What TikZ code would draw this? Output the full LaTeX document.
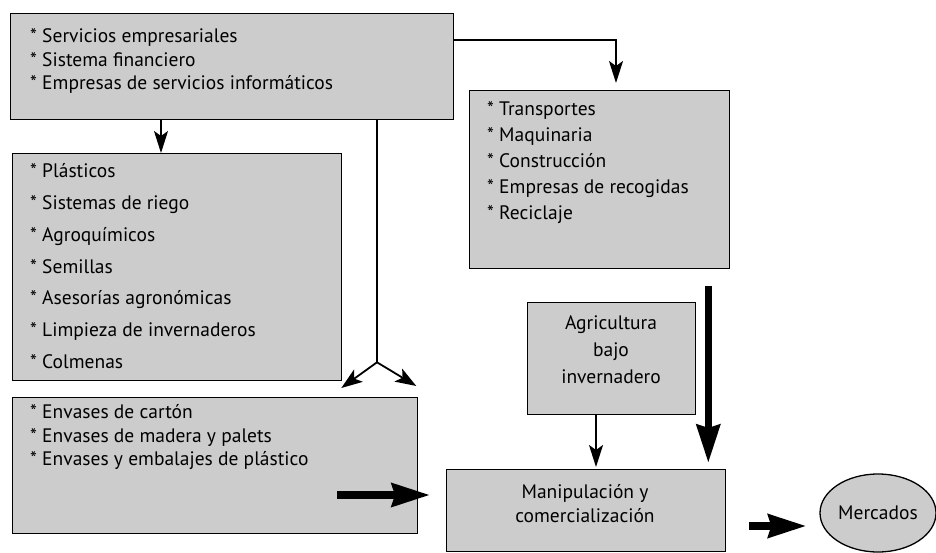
\documentclass[tikz,border=0pt]{standalone}
\usepackage{fontspec}
\setmainfont{PT Sans}
\usetikzlibrary{arrows.meta,calc,shapes.geometric}
\definecolor{boxgray}{RGB}{204,204,204}
\begin{document}
\begin{tikzpicture}[x=1pt,y=-1pt,
  box/.style={draw=black,line width=1.3pt,fill=boxgray,inner sep=0,anchor=north west},
  item/.style={anchor=base west,inner sep=0,font=\fontsize{19.5}{22}\selectfont},
  ctext/.style={align=center,inner sep=0},
  thinarrow/.style={line width=1.8pt,-{Stealth[length=22pt,width=14pt,inset=5pt]}},
  forkarrow/.style={line width=1.8pt,-{Stealth[length=21pt,width=15pt,inset=5pt]}},
  fatarrow/.style={line width=7.5pt,-{Stealth[length=38pt,width=23pt,inset=3pt]}}]
\clip (0,0) rectangle (936,553);
\fill[white] (0,0) rectangle (936,553);

% boxes
\node[box,minimum width=443,minimum height=106] (b1) at (10,13) {};
\node[box,minimum width=329,minimum height=227] (b2) at (12,153) {};
\node[box,minimum width=405,minimum height=136] (b3) at (12,397) {};
\node[box,minimum width=260,minimum height=178] (b4) at (469,90) {};
\node[box,minimum width=168,minimum height=112] (b5) at (527,302) {};
\node[box,minimum width=279,minimum height=82] (b6) at (446,469) {};
\node[ellipse,draw=black,line width=1.3pt,fill=boxgray,inner sep=0,minimum width=116,minimum height=78] (merc) at (878,513) {};

% texts box1
\node[item] (t1a) at (30,43) {* Servicios empresariales};
\node[item] (t1b) at (30,66.5) {* Sistema financiero};
\node[item] (t1c) at (30,90) {* Empresas de servicios informáticos};
% texts box2
\node[item] (t2a) at (30,178) {* Plásticos};
\node[item] (t2b) at (30,209.7) {* Sistemas de riego};
\node[item] (t2c) at (30,241.3) {* Agroquímicos};
\node[item] (t2d) at (30,273) {* Semillas};
\node[item] (t2e) at (30,304.7) {* Asesorías agronómicas};
\node[item] (t2f) at (30,336.3) {* Limpieza de invernaderos};
\node[item] (t2g) at (30,368) {* Colmenas};
% texts box3
\node[item] (t3a) at (30,418) {* Envases de cartón};
\node[item] (t3b) at (30,442) {* Envases de madera y palets};
\node[item] (t3c) at (30,465) {* Envases y embalajes de plástico};
% texts box4
\node[item] (t4a) at (487,116) {* Transportes};
\node[item] (t4b) at (487,142) {* Maquinaria};
\node[item] (t4c) at (487,168) {* Construcción};
\node[item] (t4d) at (487,194) {* Empresas de recogidas};
\node[item] (t4e) at (487,220) {* Reciclaje};
% centered texts
\node[ctext,font=\fontsize{19.5}{27}\selectfont] (t5) at (611,350) {Agricultura\\bajo\\invernadero};
\node[ctext,font=\fontsize{19.5}{23.5}\selectfont] (t6) at (585,503.5) {Manipulación y\\comercialización};
\node[ctext,font=\fontsize{19.5}{22}\selectfont] (t7) at (merc.center) {Mercados};

% connectors
\draw[thinarrow] ($(b1.south west)+(151,0)$) -- ($(b2.north west)+(149,0)$);
\draw[thinarrow] ($(b1.north east)+(0,27)$) -| ($(b4.north west)+(147,-7)$);
\coordinate (split) at ($(b1.south west)+(367,242)$);
\coordinate (forkL) at ($(b3.north east)+(-77,-9)$);
\coordinate (forkR) at ($(b3.north east)+(-2,-11)$);
\draw[line width=1.8pt] ($(b1.south west)+(367,0)$) -- (split);
\draw[forkarrow] (split) -- (forkL);
\draw[forkarrow] (split) -- (forkR);
\draw[thinarrow] (b5.south -| 596,0) -- ($(b6.north west)+(150,-2)$);
\coordinate (v1) at ($(b4.south east)+(-22,17)$);
\coordinate (v2) at ($(b6.north east)+(-18,-6)$);
\draw[fatarrow] (v1) -- (v2);
\coordinate (h1) at ($(b3.north east)+(-81,98)$);
\coordinate (h2) at ($(b6.north west)+(-16,26)$);
\draw[fatarrow] (h1) -- (h2);
\coordinate (m1) at ($(b6.north east)+(23,57)$);
\coordinate (m2) at ($(merc.west)+(-13,13)$);
\draw[fatarrow] (m1) -- (m2);
\end{tikzpicture}
\end{document}
